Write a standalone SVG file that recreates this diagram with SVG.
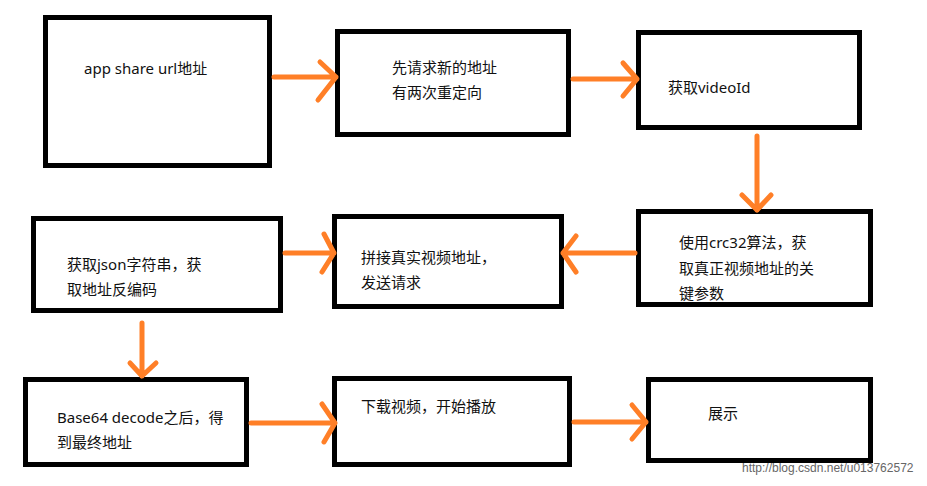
<svg xmlns="http://www.w3.org/2000/svg" width="927" height="486" viewBox="0 0 927 486">
<style>
.box{fill:#fff;stroke:#000;stroke-width:5}
.t{font-family:"Noto Sans","Noto Sans CJK SC",sans-serif;font-size:15px;fill:#111}
.c{fill:none;stroke:#FF7F27;stroke-width:5;stroke-linecap:round;stroke-linejoin:round}
.wm{font-family:"Liberation Sans",Arial,sans-serif;font-size:12px;fill:#666}
</style>
<rect width="927" height="486" fill="#fff"/>
<g id="n1"><rect class="box" x="45.5" y="17.5" width="224" height="148"/><text class="t" x="84" y="74">app share url地址</text></g>
<g id="n2"><rect class="box" x="337.5" y="31.5" width="231" height="103"/><text class="t" x="392" y="73">先请求新的地址</text><text class="t" x="392" y="98">有两次重定向</text></g>
<g id="n3"><rect class="box" x="638.5" y="32.5" width="221" height="95"/><text class="t" x="668" y="93">获取videoId</text></g>
<g id="n4"><rect class="box" x="638.5" y="211.5" width="232" height="93"/><text class="t" x="679" y="248">使用crc32算法，获</text><text class="t" x="679" y="274">取真正视频地址的关</text><text class="t" x="679" y="299">键参数</text></g>
<g id="n5"><rect class="box" x="33.5" y="218.5" width="247" height="92"/><text class="t" x="67" y="270">获取json字符串，获</text><text class="t" x="67" y="295">取地址反编码</text></g>
<g id="n6"><rect class="box" x="334.5" y="216.5" width="227" height="90"/><text class="t" x="361" y="263">拼接真实视频地址，</text><text class="t" x="361" y="288">发送请求</text></g>
<g id="n7"><rect class="box" x="25.5" y="379.5" width="221" height="85"/><text class="t" x="57" y="423">Base64 decode之后，得</text><text class="t" x="57" y="448">到最终地址</text></g>
<g id="n8"><rect class="box" x="334.5" y="378.5" width="235" height="86"/><text class="t" x="361" y="412">下载视频，开始播放</text></g>
<g id="n9"><rect class="box" x="648.5" y="379.5" width="222" height="81"/><text class="t" x="708" y="419">展示</text></g>
<g id="connectors">
<path class="c" d="M274 77H336M320 62L336 77L318 100"/>
<path class="c" d="M573 79H637M623 63L637 79L623 96"/>
<path class="c" d="M757 136V210M742 195L757 210L771 195"/>
<path class="c" d="M635 253H563M576 236L563 253L576 272"/>
<path class="c" d="M285 253H334M324 234L334 253L322 272"/>
<path class="c" d="M142 323V376M130 363L142 376L156 363"/>
<path class="c" d="M251 423H335M322 404L335 423L324 442"/>
<path class="c" d="M574 422H646M632 405L646 422L632 439"/>
</g>
<text class="wm" x="742" y="472">http://blog.csdn.net/u013762572</text>
</svg>
